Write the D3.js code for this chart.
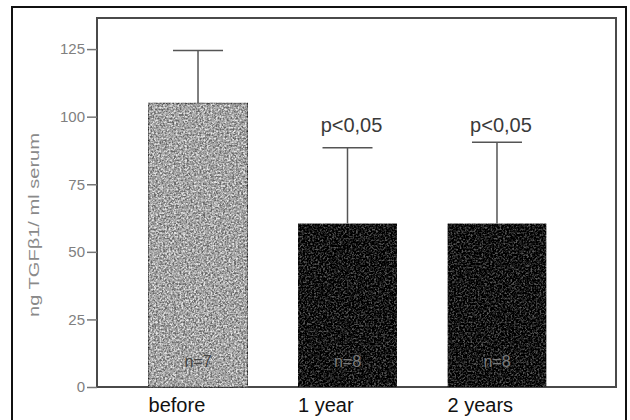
<!DOCTYPE html>
<html>
<head>
<meta charset="utf-8">
<script src="https://cdn.jsdelivr.net/npm/d3@7"></script>
<style>
    body { margin: 0; background: #fff; }
    svg { display: block; font-family: "Liberation Sans", Arial, sans-serif; }
</style>
</head>
<body>
<div id="chart"></div>
<script>
// values
const categories = ['before', '1 year', '2 years'];
const means = [105, 60.5, 60.5];
const upperErr = [124.5, 88.5, 90.5];
const nLabels = ['n=7', 'n=8', 'n=8'];
const pLabels = ['', 'p<0,05', 'p<0,05'];
const yTicks = [0, 25, 50, 75, 100, 125];

const W = 630, H = 420;
const box = { left: 97, right: 616, top: 18, bottom: 387 };

const svg = d3.select('#chart').append('svg')
    .attr('width', W)
    .attr('height', H);

// grainy print texture
const defs = svg.append('defs');
const grain = defs.append('filter')
    .attr('id', 'grain')
    .attr('color-interpolation-filters', 'sRGB');
grain.append('feTurbulence')
    .attr('type', 'fractalNoise')
    .attr('baseFrequency', 0.55)
    .attr('numOctaves', 2)
    .attr('seed', 7)
    .attr('result', 'noise');
grain.append('feColorMatrix')
    .attr('in', 'noise')
    .attr('type', 'matrix')
    .attr('values', '0.33 0.33 0.33 0 0  0.33 0.33 0.33 0 0  0.33 0.33 0.33 0 0  0 0 0 0 1')
    .attr('result', 'gray');
const ct = grain.append('feComponentTransfer').attr('in', 'gray').attr('result', 'contrast');
['feFuncR', 'feFuncG', 'feFuncB'].forEach(f => ct.append(f).attr('type', 'linear').attr('slope', 4).attr('intercept', -1.5));
grain.append('feComposite')
    .attr('in', 'SourceGraphic')
    .attr('in2', 'contrast')
    .attr('operator', 'arithmetic')
    .attr('k1', 0).attr('k2', 1).attr('k3', 0.5).attr('k4', -0.25)
    .attr('result', 'mixed');
grain.append('feComposite')
    .attr('in', 'mixed')
    .attr('in2', 'SourceGraphic')
    .attr('operator', 'in');

// outer frame
svg.append('rect')
    .attr('x', 12).attr('y', 7)
    .attr('width', 614).attr('height', H)
    .attr('fill', 'none')
    .attr('stroke', '#111')
    .attr('stroke-width', 2);

const x = d3.scaleBand()
    .domain(categories)
    .range([98, 597])
    .paddingInner(0.338)
    .paddingOuter(0.338);

const y = d3.scaleLinear()
    .domain([0, 136.5])
    .range([box.bottom, box.top]);

// plot box
svg.append('rect')
    .attr('x', box.left).attr('y', box.top)
    .attr('width', box.right - box.left)
    .attr('height', box.bottom - box.top)
    .attr('fill', 'none')
    .attr('stroke', '#4a4a4a')
    .attr('stroke-width', 2);

// bars
svg.selectAll('rect.bar')
    .data(categories)
    .enter()
    .append('rect')
    .attr('class', 'bar')
    .attr('x', d => x(d))
    .attr('y', (d, i) => y(means[i]))
    .attr('width', x.bandwidth())
    .attr('height', (d, i) => y(0) - y(means[i]))
    .attr('fill', (d, i) => (i === 0 ? '#a6a6a6' : '#161616'))
    .attr('stroke', (d, i) => (i === 0 ? '#666' : 'none'))
    .attr('stroke-width', 1)
    .attr('filter', 'url(#grain)');

// error bars
const cx = d => x(d) + x.bandwidth() / 2;
const errs = svg.append('g').attr('stroke', '#555').attr('stroke-width', 1.5);
errs.selectAll('line.stem')
    .data(categories)
    .enter()
    .append('line')
    .attr('x1', cx).attr('x2', cx)
    .attr('y1', (d, i) => y(means[i]))
    .attr('y2', (d, i) => y(upperErr[i]));
errs.selectAll('line.cap')
    .data(categories)
    .enter()
    .append('line')
    .attr('x1', d => cx(d) - 25).attr('x2', d => cx(d) + 25)
    .attr('y1', (d, i) => y(upperErr[i]))
    .attr('y2', (d, i) => y(upperErr[i]));

// significance labels
const pY = d3.min(upperErr.filter((v, i) => pLabels[i]), v => y(v)) - 10;
svg.selectAll('text.p')
    .data(categories)
    .enter()
    .append('text')
    .attr('x', d => cx(d) + 4)
    .attr('y', pY)
    .attr('text-anchor', 'middle')
    .attr('font-size', 20)
    .attr('fill', '#3a3a3a')
    .text((d, i) => pLabels[i]);

// n labels inside the bars
svg.selectAll('text.n')
    .data(categories)
    .enter()
    .append('text')
    .attr('x', d => cx(d))
    .attr('y', y(0) - 20)
    .attr('text-anchor', 'middle')
    .attr('font-size', 16)
    .attr('fill', (d, i) => (i === 0 ? '#444' : '#7a7a7a'))
    .text((d, i) => nLabels[i]);

// y axis
svg.append('g')
    .attr('transform', `translate(${box.left},0)`)
    .call(d3.axisLeft(y).tickValues(yTicks).tickSize(10).tickPadding(2))
    .call(g => g.select('.domain').remove())
    .call(g => g.selectAll('.tick line').attr('stroke', '#777').attr('stroke-width', 1.5))
    .call(g => g.selectAll('.tick text')
        .attr('font-size', 15)
        .attr('font-family', '"Liberation Sans", Arial, sans-serif')
        .attr('fill', '#808080'));

// y axis title
svg.append('text')
    .attr('transform', 'translate(39,225) rotate(-90)')
    .attr('text-anchor', 'middle')
    .attr('font-size', 15)
    .attr('fill', '#8a8a8a')
    .attr('textLength', 184)
    .attr('lengthAdjust', 'spacingAndGlyphs')
    .text('ng TGFβ1/ ml serum');

// x axis labels
svg.append('g')
    .attr('transform', `translate(0,${box.bottom})`)
    .call(d3.axisBottom(x).tickSize(0).tickPadding(0))
    .call(g => g.select('.domain').remove())
    .call(g => g.selectAll('.tick text')
        .attr('x', -x.bandwidth() / 2)
        .attr('y', 25)
        .attr('dy', 0)
        .attr('text-anchor', 'start')
        .attr('font-size', 20)
        .attr('font-family', '"Liberation Sans", Arial, sans-serif')
        .attr('fill', '#111'));
</script>
</body>
</html>
